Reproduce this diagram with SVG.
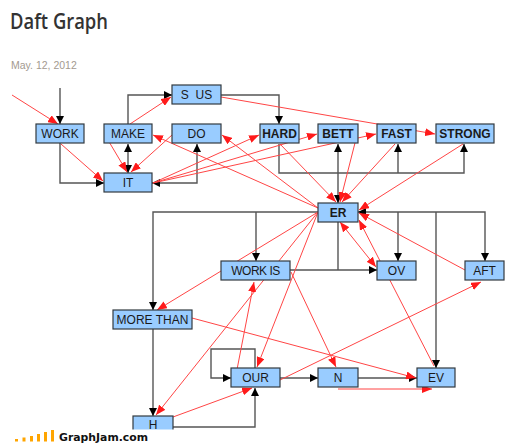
<svg xmlns="http://www.w3.org/2000/svg" width="521" height="447" viewBox="0 0 521 447">
<style>
.n rect{fill:#99ccff;stroke:#333a40;stroke-width:1.2}
.n text{font-family:"Liberation Sans",Arial,sans-serif;font-size:12px;fill:#1a1a1a;text-anchor:middle}
.n text.b{font-weight:bold}
.k{fill:none;stroke:#555;stroke-width:1.4;marker-end:url(#ak)}
.r{fill:none;stroke:#ff4545;stroke-width:1;marker-end:url(#ar)}
</style>
<defs>
<marker id="ak" viewBox="0 0 8 8" refX="8" refY="4" markerWidth="8" markerHeight="8" markerUnits="userSpaceOnUse" orient="auto-start-reverse"><path d="M0,0 L8,4 L0,8 z" fill="#000"/></marker>
<marker id="ar" viewBox="0 0 10 8" refX="10" refY="4" markerWidth="10" markerHeight="8" markerUnits="userSpaceOnUse" orient="auto-start-reverse"><path d="M0,0 L10,4 L0,8 z" fill="#ff1a1a"/></marker>
</defs>
<rect width="521" height="447" fill="#fff"/>
<text x="10" y="29" font-family="'Open Sans',Lato,sans-serif" font-weight="600" font-size="21" fill="#333" textLength="98" lengthAdjust="spacingAndGlyphs">Daft Graph</text>
<text x="11" y="69" font-family="'Liberation Sans',Arial,sans-serif" font-size="10.5" fill="#a39a90">May. 12, 2012</text>
<g id="connectors">
<path class="k" d="M60,88 V124"/>
<path class="k" d="M60,143 V183 H104"/>
<path class="k" d="M128,124 V95 H172"/>
<path class="k" d="M128,144 V173" marker-start="url(#ak)"/>
<path class="k" d="M197,144 V183 H152" marker-start="url(#ak)"/>
<path class="k" d="M221,95 H279 V124"/>
<path class="k" d="M279,144 V173 H464 V144"/>
<path class="k" d="M398,173 V144"/>
<path class="k" d="M338,144 V203" marker-start="url(#ak)"/>
<path class="k" d="M318,212 H153 V310"/>
<path class="k" d="M256,212 V261"/>
<path class="k" d="M358,212 H485 V261" marker-start="url(#ak)"/>
<path class="k" d="M398,212 V261"/>
<path class="k" d="M436,212 V368"/>
<path class="k" d="M338,222 V270" style="marker-end:none"/>
<path class="k" d="M290,270 H377"/>
<path class="k" d="M153,329 V416"/>
<path class="k" d="M255,368 V349 H211 V378 H231"/>
<path class="k" d="M280,378 H318"/>
<path class="k" d="M358,378 H417"/>
<path class="k" d="M173,427 H255 V388"/>
<path class="r" d="M12,95 L58,124"/>
<path class="r" d="M61,144 L103,181"/>
<path class="r" d="M105,135 L127,172"/>
<path class="r" d="M172,135 L131,172"/>
<path class="r" d="M130,124 L171,97"/>
<path class="r" d="M221,97 L435,134"/>
<path class="r" d="M153,183 L259,135"/>
<path class="r" d="M153,183 L317,134"/>
<path class="r" d="M153,183 L376,134"/>
<path class="r" d="M318,208 L153,135"/>
<path class="r" d="M318,208 L222,135"/>
<path class="r" d="M280,144 L336,202"/>
<path class="r" d="M357,135 L340,202"/>
<path class="r" d="M395,144 L342,202"/>
<path class="r" d="M463,144 L359,210"/>
<path class="r" d="M465,270 L359,213"/>
<path class="r" d="M434,366 L359,220"/>
<path class="r" d="M340,222 L376,267" marker-start="url(#ar)"/>
<path class="r" d="M318,212 L157,310"/>
<path class="r" d="M318,212 L156,415"/>
<path class="r" d="M318,212 L257,367"/>
<path class="r" d="M234,385 L254,282"/>
<path class="r" d="M291,272 L336,367"/>
<path class="r" d="M192,318 L416,378"/>
<path class="r" d="M280,380 L481,282"/>
<path class="r" d="M338,389 L432,389"/>
<path class="r" d="M173,417 L252,388"/>
</g>
<g id="n-work" class="n"><rect x="36" y="124" width="48" height="19"/><text x="60" y="138">WORK</text></g>
<g id="n-make" class="n"><rect x="104" y="124" width="48" height="19"/><text x="128" y="138">MAKE</text></g>
<g id="n-do" class="n"><rect x="172" y="124" width="49" height="19"/><text x="196.5" y="138">DO</text></g>
<g id="n-sus" class="n"><rect x="172" y="85" width="49" height="19"/><text x="196.5" y="99" style="white-space:pre">S  US</text></g>
<g id="n-it" class="n"><rect x="104" y="173" width="48" height="19"/><text x="128" y="187">IT</text></g>
<g id="n-hard" class="n"><rect x="260" y="124" width="39" height="19"/><text class="b" x="279.5" y="138">HARD</text></g>
<g id="n-bett" class="n"><rect x="318" y="124" width="40" height="19"/><text class="b" x="338" y="138">BETT</text></g>
<g id="n-fast" class="n"><rect x="377" y="124" width="39" height="19"/><text class="b" x="396.5" y="138">FAST</text></g>
<g id="n-strong" class="n"><rect x="436" y="124" width="58" height="19"/><text class="b" x="465" y="138">STRONG</text></g>
<g id="n-er" class="n"><rect x="318" y="203" width="40" height="19"/><text class="b" x="338" y="217">ER</text></g>
<g id="n-workis" class="n"><rect x="221" y="261" width="69" height="19"/><text x="255.5" y="275" letter-spacing="-0.5">WORK IS</text></g>
<g id="n-ov" class="n"><rect x="377" y="261" width="39" height="19"/><text x="396.5" y="275">OV</text></g>
<g id="n-aft" class="n"><rect x="465" y="261" width="39" height="19"/><text x="484.5" y="275">AFT</text></g>
<g id="n-morethan" class="n"><rect x="113" y="310" width="79" height="19"/><text x="152.5" y="324">MORE THAN</text></g>
<g id="n-our" class="n"><rect x="231" y="368" width="49" height="19"/><text x="255.5" y="382">OUR</text></g>
<g id="n-n" class="n"><rect x="318" y="368" width="40" height="19"/><text x="338" y="382">N</text></g>
<g id="n-ev" class="n"><rect x="417" y="368" width="38" height="19"/><text x="436" y="382">EV</text></g>
<g id="n-h" class="n"><rect x="133" y="416" width="40" height="19"/><text x="153" y="428.5">H</text></g>
<rect x="0" y="429.5" width="521" height="17.5" fill="#fff"/>
<g id="logo" fill="#ffa500">
<rect x="15" y="439" width="3" height="2.5"/>
<rect x="22.5" y="437.5" width="3" height="4"/>
<rect x="30" y="436" width="3" height="5.5"/>
<rect x="37" y="434" width="3" height="7.5"/>
<rect x="44" y="432" width="3" height="9.5"/>
<rect x="51" y="430" width="3" height="11.5"/>
</g>
<text x="59" y="441" font-family="'DejaVu Sans',Verdana,sans-serif" font-weight="bold" font-size="11" fill="#111" textLength="89" lengthAdjust="spacingAndGlyphs">GraphJam.com</text>
</svg>
